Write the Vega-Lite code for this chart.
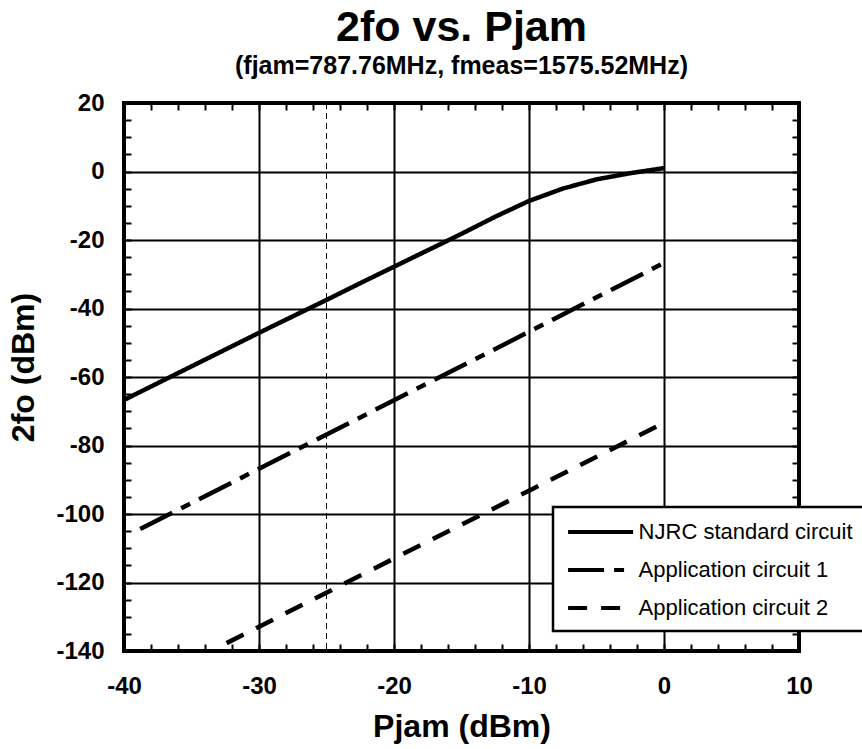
{
  "$schema": "https://vega.github.io/schema/vega-lite/v6.json",
  "width": 675,
  "height": 548,
  "autosize": {"type": "none"},
  "padding": {"left": 124, "top": 103, "right": 63, "bottom": 98},
  "background": "white",
  "config": {"font": "Liberation Sans", "view": {"stroke": "black", "strokeWidth": 4}},
  "title": {
    "text": "2fo vs. Pjam",
    "subtitle": "(fjam=787.76MHz, fmeas=1575.52MHz)",
    "font": "Liberation Sans",
    "subtitleFont": "Liberation Sans",
    "fontSize": 43,
    "fontWeight": "bold",
    "subtitleFontSize": 25,
    "subtitleFontWeight": "bold",
    "color": "black",
    "subtitleColor": "black",
    "anchor": "middle",
    "frame": "group",
    "offset": 12,
    "subtitlePadding": 4
  },
  "layer": [
    {
      "data": {"values": [
        {"series": "NJRC standard circuit", "pjam": -40, "fo2": -66.7},
        {"series": "NJRC standard circuit", "pjam": -37.5, "fo2": -61.8},
        {"series": "NJRC standard circuit", "pjam": -35, "fo2": -56.9},
        {"series": "NJRC standard circuit", "pjam": -32.5, "fo2": -52.0},
        {"series": "NJRC standard circuit", "pjam": -30, "fo2": -47.1},
        {"series": "NJRC standard circuit", "pjam": -27.5, "fo2": -42.3},
        {"series": "NJRC standard circuit", "pjam": -25, "fo2": -37.5},
        {"series": "NJRC standard circuit", "pjam": -22.5, "fo2": -32.6},
        {"series": "NJRC standard circuit", "pjam": -20, "fo2": -27.8},
        {"series": "NJRC standard circuit", "pjam": -17.5, "fo2": -23.0},
        {"series": "NJRC standard circuit", "pjam": -15, "fo2": -18.2},
        {"series": "NJRC standard circuit", "pjam": -12.5, "fo2": -13.2},
        {"series": "NJRC standard circuit", "pjam": -10, "fo2": -8.6},
        {"series": "NJRC standard circuit", "pjam": -7.5, "fo2": -5.0},
        {"series": "NJRC standard circuit", "pjam": -5, "fo2": -2.3},
        {"series": "NJRC standard circuit", "pjam": -2.5, "fo2": -0.5},
        {"series": "NJRC standard circuit", "pjam": 0, "fo2": 1.0},
        {"series": "Application circuit 1", "pjam": -38.8, "fo2": -104.4},
        {"series": "Application circuit 1", "pjam": -30, "fo2": -86.8},
        {"series": "Application circuit 1", "pjam": -20, "fo2": -66.8},
        {"series": "Application circuit 1", "pjam": -10, "fo2": -46.8},
        {"series": "Application circuit 1", "pjam": 0, "fo2": -26.7},
        {"series": "Application circuit 2", "pjam": -32.4, "fo2": -137.7},
        {"series": "Application circuit 2", "pjam": -20, "fo2": -113.0},
        {"series": "Application circuit 2", "pjam": -10, "fo2": -93.2},
        {"series": "Application circuit 2", "pjam": 0, "fo2": -73.4}
      ]},
      "mark": {"type": "line", "strokeWidth": 4.5, "color": "black"},
      "encoding": {
        "x": {
          "field": "pjam", "type": "quantitative",
          "scale": {"domain": [-40, 10], "nice": false, "zero": false},
          "axis": {
            "orient": "bottom",
            "values": [-40,-38,-36,-34,-32,-30,-28,-26,-24,-22,-20,-18,-16,-14,-12,-10,-8,-6,-4,-2,0,2,4,6,8,10],
            "labelExpr": "datum.value % 10 === 0 ? toString(datum.value) : ''",
            "labelFlush": false, "labelOverlap": false, "labelBound": false,
            "labelFont": "Liberation Sans", "labelFontSize": 24, "labelFontWeight": "bold", "labelColor": "black",
            "labelBaseline": "alphabetic", "labelPadding": 49,
            "grid": true, "gridColor": "black", "gridWidth": 2,
            "gridOpacity": {"condition": {"test": "datum.value % 10 === 0", "value": 1}, "value": 0},
            "ticks": true, "tickSize": -7, "tickWidth": 2, "tickColor": "black",
            "domain": false,
            "title": "Pjam (dBm)", "titleFont": "Liberation Sans", "titleFontSize": 32, "titleFontWeight": "bold", "titleColor": "black",
            "titleBaseline": "alphabetic", "titleY": 85
          }
        },
        "y": {
          "field": "fo2", "type": "quantitative",
          "scale": {"domain": [-140, 20], "nice": false, "zero": false},
          "axis": {
            "orient": "left",
            "values": [-140,-135,-130,-125,-120,-115,-110,-105,-100,-95,-90,-85,-80,-75,-70,-65,-60,-55,-50,-45,-40,-35,-30,-25,-20,-15,-10,-5,0,5,10,15,20],
            "labelExpr": "datum.value % 20 === 0 ? toString(datum.value) : ''",
            "labelFlush": false, "labelOverlap": false, "labelBound": false,
            "labelFont": "Liberation Sans", "labelFontSize": 24, "labelFontWeight": "bold", "labelColor": "black",
            "labelBaseline": "middle", "labelPadding": 27,
            "grid": true, "gridColor": "black", "gridWidth": 2,
            "gridOpacity": {"condition": {"test": "datum.value % 20 === 0", "value": 1}, "value": 0},
            "ticks": true, "tickSize": -7, "tickWidth": 2, "tickColor": "black",
            "domain": false,
            "title": "2fo (dBm)", "titleFont": "Liberation Sans", "titleFontSize": 32, "titleFontWeight": "bold", "titleColor": "black",
            "titleAngle": -90, "titleBaseline": "alphabetic", "titleAlign": "center", "titleX": -91, "titleY": 264
          }
        },
        "strokeDash": {
          "field": "series", "type": "nominal",
          "scale": {
            "domain": ["NJRC standard circuit", "Application circuit 1", "Application circuit 2"],
            "range": [[1, 0], [36, 10, 10, 10], [19, 14]]
          },
          "legend": {
            "orient": "none", "legendX": 429, "legendY": 404,
            "title": null,
            "symbolType": "M-3,0H3", "symbolSize": 470, "symbolStrokeWidth": 4, "symbolStrokeColor": "black",
            "symbolOffset": 22.6,
            "labelFont": "Liberation Sans", "labelFontSize": 22, "labelColor": "black", "labelOffset": 25, "labelLimit": 400,
            "rowPadding": 14, "padding": 12,
            "strokeColor": "black", "fillColor": "white",
            "encode": {"legend": {"update": {"strokeWidth": {"value": 2.5}}}}
          }
        }
      }
    },
    {
      "data": {"values": [{"pjam": -25, "top": 20, "bottom": -140}]},
      "mark": {"type": "rule", "strokeDash": [6, 4], "strokeWidth": 1, "color": "black"},
      "encoding": {
        "x": {
          "field": "pjam", "type": "quantitative",
          "axis": {
            "orient": "top",
            "values": [-40,-38,-36,-34,-32,-30,-28,-26,-24,-22,-20,-18,-16,-14,-12,-10,-8,-6,-4,-2,0,2,4,6,8,10],
            "labels": false, "grid": false, "domain": false,
            "ticks": true, "tickSize": -7, "tickWidth": 2, "tickColor": "black",
            "title": null
          }
        },
        "y": {
          "field": "top", "type": "quantitative",
          "axis": {
            "orient": "right",
            "values": [-140,-135,-130,-125,-120,-115,-110,-105,-100,-95,-90,-85,-80,-75,-70,-65,-60,-55,-50,-45,-40,-35,-30,-25,-20,-15,-10,-5,0,5,10,15,20],
            "labels": false, "grid": false, "domain": false,
            "ticks": true, "tickSize": -7, "tickWidth": 2, "tickColor": "black",
            "title": null
          }
        },
        "y2": {"field": "bottom"}
      }
    }
  ],
  "resolve": {"axis": {"x": "independent", "y": "independent"}}
}
